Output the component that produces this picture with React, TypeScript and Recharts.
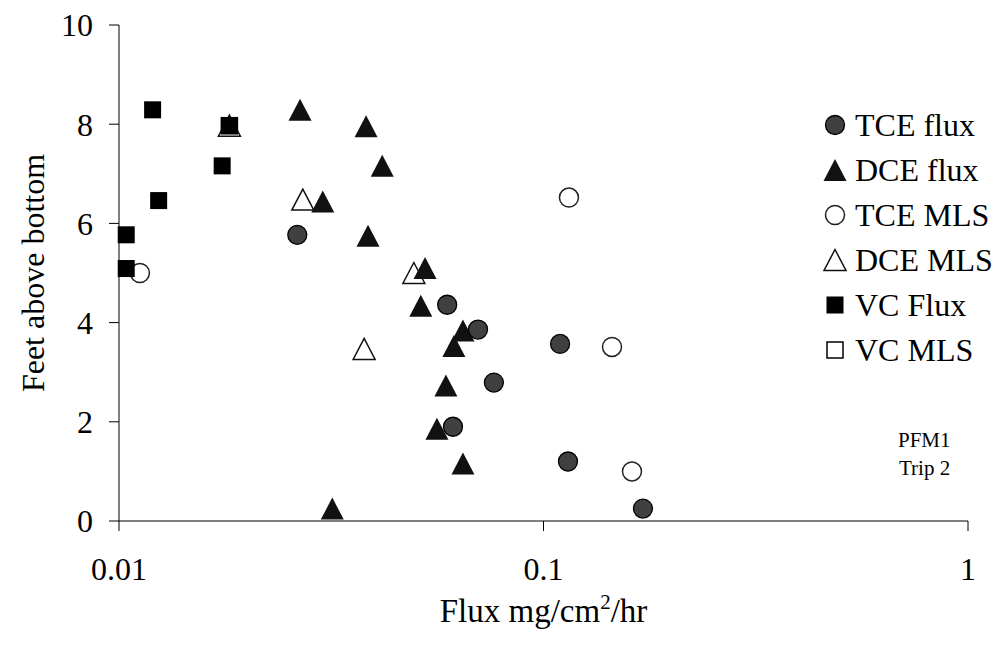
import React from "react";
import { ScatterChart, Scatter, XAxis, YAxis, Label, Customized } from "recharts";

type Pt = { flux: number; depth: number };

const FONT = '"Liberation Serif", "Times New Roman", serif';

const xTicks = [0.01, 0.1, 1];
const yTicks = [0, 2, 4, 6, 8, 10];

const tceFlux: Pt[] = [
  { flux: 0.0263, depth: 5.77 },
  { flux: 0.0593, depth: 4.36 },
  { flux: 0.0701, depth: 3.86 },
  { flux: 0.1094, depth: 3.57 },
  { flux: 0.0764, depth: 2.79 },
  { flux: 0.0612, depth: 1.9 },
  { flux: 0.1142, depth: 1.2 },
  { flux: 0.1715, depth: 0.25 }
];

const dceFlux: Pt[] = [
  { flux: 0.0267, depth: 8.29 },
  { flux: 0.0382, depth: 7.96 },
  { flux: 0.0417, depth: 7.16 },
  { flux: 0.0302, depth: 6.44 },
  { flux: 0.0386, depth: 5.75 },
  { flux: 0.0526, depth: 5.1 },
  { flux: 0.0514, depth: 4.34 },
  { flux: 0.0646, depth: 3.84 },
  { flux: 0.0615, depth: 3.53 },
  { flux: 0.0589, depth: 2.73 },
  { flux: 0.0561, depth: 1.86 },
  { flux: 0.0646, depth: 1.16 },
  { flux: 0.0318, depth: 0.25 }
];

const tceMls: Pt[] = [
  { flux: 0.0112, depth: 5.0 },
  { flux: 0.1148, depth: 6.52 },
  { flux: 0.145, depth: 3.51 },
  { flux: 0.1616, depth: 1.0 }
];

const dceMls: Pt[] = [
  { flux: 0.0182, depth: 7.97 },
  { flux: 0.0271, depth: 6.48 },
  { flux: 0.0495, depth: 5.0 },
  { flux: 0.0378, depth: 3.47 }
];

const vcFlux: Pt[] = [
  { flux: 0.012, depth: 8.29 },
  { flux: 0.0182, depth: 7.97 },
  { flux: 0.0175, depth: 7.16 },
  { flux: 0.0124, depth: 6.46 },
  { flux: 0.0104, depth: 5.77 },
  { flux: 0.0104, depth: 5.09 }
];

const vcMls: Pt[] = [{ flux: 0.0182, depth: 7.97 }];

type Kind = "circle" | "triangle" | "openCircle" | "openTriangle" | "square" | "openSquare";

const legendItems: { name: string; kind: Kind }[] = [
  { name: "TCE flux", kind: "circle" },
  { name: "DCE flux", kind: "triangle" },
  { name: "TCE MLS", kind: "openCircle" },
  { name: "DCE MLS", kind: "openTriangle" },
  { name: "VC Flux", kind: "square" },
  { name: "VC MLS", kind: "openSquare" }
];

const Marker = ({ kind, cx, cy }: { kind: Kind; cx: number; cy: number }) => {
  if (cx == null || cy == null) return null;
  switch (kind) {
    case "circle":
      return <circle cx={cx} cy={cy} r={9.5} fill="#404040" stroke="#000" strokeWidth={1.3} />;
    case "openCircle":
      return <circle cx={cx} cy={cy} r={9.5} fill="#fff" stroke="#222" strokeWidth={1.5} />;
    case "triangle":
      return (
        <polygon
          points={`${cx},${cy - 11} ${cx + 11.5},${cy + 11} ${cx - 11.5},${cy + 11}`}
          fill="#111"
        />
      );
    case "openTriangle":
      return (
        <polygon
          points={`${cx},${cy - 10.5} ${cx + 11},${cy + 10.5} ${cx - 11},${cy + 10.5}`}
          fill="#fff"
          stroke="#111"
          strokeWidth={1.5}
        />
      );
    case "square":
      return <rect x={cx - 8.5} y={cy - 8.5} width={17} height={17} fill="#000" />;
    case "openSquare":
      return (
        <rect x={cx - 8} y={cy - 8} width={16} height={16} fill="#fff" stroke="#000" strokeWidth={1.5} />
      );
  }
  return null;
};

const shapeOf = (kind: Kind) => (props: any) => <Marker kind={kind} cx={props.cx} cy={props.cy} />;

const Notes = () => (
  <g fontFamily={FONT} fill="#000">
    {legendItems.map((it, i) => {
      const cy = 125 + i * 45;
      return (
        <g key={it.name}>
          <Marker kind={it.kind} cx={835} cy={cy} />
          <text x={855} y={cy + 10.5} fontSize={32}>
            {it.name}
          </text>
        </g>
      );
    })}
    <text x={898} y={447} fontSize={21}>
      PFM1
    </text>
    <text x={899} y={475} fontSize={21}>
      Trip 2
    </text>
  </g>
);

const XTitle = (props: any) => {
  const vb = props.viewBox || {};
  const cx = (vb.x ?? 119) + (vb.width ?? 849) / 2;
  return (
    <text x={cx} y={622} textAnchor="middle" fontFamily={FONT} fontSize={33} fill="#000">
      <tspan>Flux mg/cm</tspan>
      <tspan dy={-13} fontSize={21}>2</tspan>
      <tspan dy={13} fontSize={33}>/hr</tspan>
    </text>
  );
};

const YTitle = () => (
  <text
    x={44}
    y={273}
    transform="rotate(-90, 44, 273)"
    textAnchor="middle"
    fontFamily={FONT}
    fontSize={32}
    fill="#000"
  >
    Feet above bottom
  </text>
);

const tickStyle = { fontFamily: FONT, fontSize: 32, fill: "#000" };

const App = () => {
  return (
    <div style={{ position: "absolute", left: 0, top: 0, background: "#fff" }}>
      <ScatterChart width={1003} height={657} margin={{ top: 25, right: 35, left: 0, bottom: 0 }}>
        <XAxis
          type="number"
          dataKey="flux"
          scale="log"
          domain={[0.01, 1]}
          ticks={xTicks}
          tickFormatter={(v: number) => String(v)}
          height={136}
          tickSize={10}
          tickMargin={26}
          tick={tickStyle}
          stroke="#000"
          interval={0}
        >
          <Label content={<XTitle />} />
        </XAxis>
        <YAxis
          type="number"
          dataKey="depth"
          domain={[0, 10]}
          ticks={yTicks}
          width={119}
          tickSize={10}
          tickMargin={16}
          tick={tickStyle}
          stroke="#000"
          interval={0}
        >
          <Label content={<YTitle />} />
        </YAxis>
        <Scatter name="TCE MLS" data={tceMls} shape={shapeOf("openCircle")} isAnimationActive={false} />
        <Scatter name="DCE MLS" data={dceMls} shape={shapeOf("openTriangle")} isAnimationActive={false} />
        <Scatter name="VC MLS" data={vcMls} shape={shapeOf("openSquare")} isAnimationActive={false} />
        <Scatter name="DCE flux" data={dceFlux} shape={shapeOf("triangle")} isAnimationActive={false} />
        <Scatter name="TCE flux" data={tceFlux} shape={shapeOf("circle")} isAnimationActive={false} />
        <Scatter name="VC Flux" data={vcFlux} shape={shapeOf("square")} isAnimationActive={false} />
        <Customized component={Notes} />
      </ScatterChart>
    </div>
  );
};

export default App;
